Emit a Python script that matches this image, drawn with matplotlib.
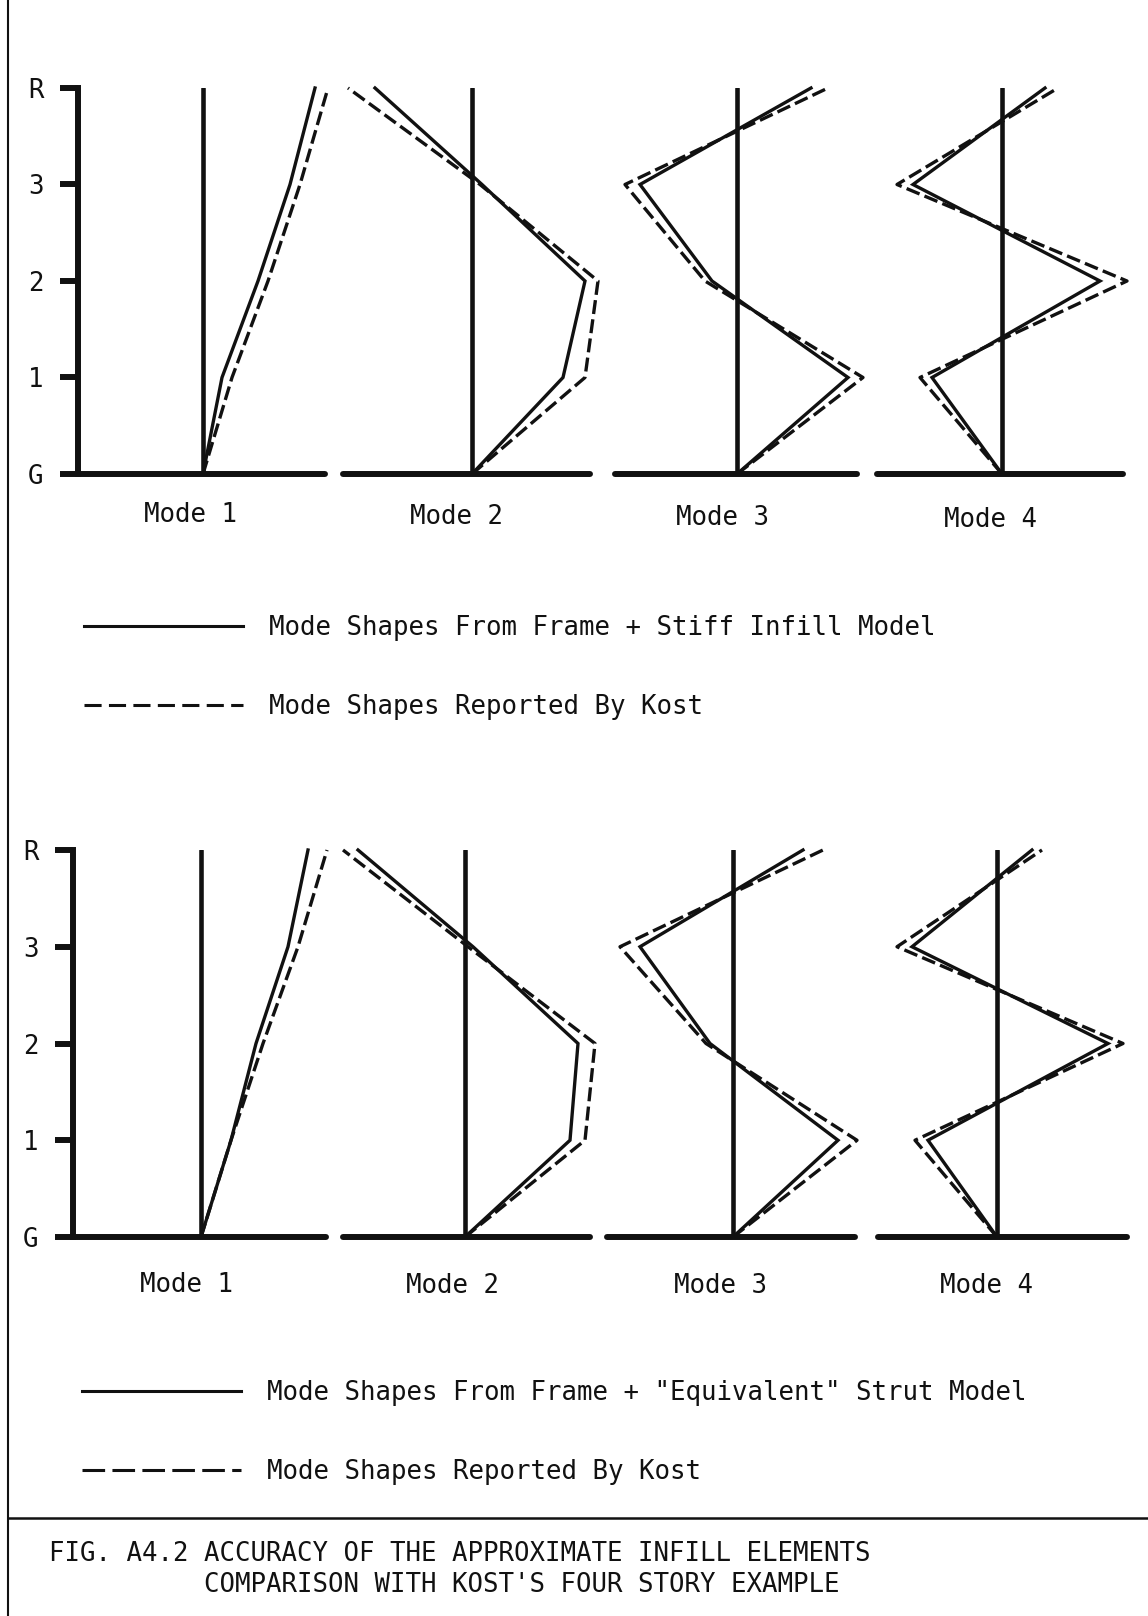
import matplotlib
matplotlib.use("Agg")
import matplotlib.pyplot as plt
from matplotlib.lines import Line2D

W, H = 1148, 1616
FONT = "DejaVu Sans Mono"
FS = 18.5
INK = "#111111"

# story levels and mode names
levels = [0, 1, 2, 3, 4]
level_labels = ["G", "1", "2", "3", "R"]
mode_names = ["Mode 1", "Mode 2", "Mode 3", "Mode 4"]

# mode shape ordinates at G, 1, 2, 3, R
top_solid = [
    [0, 0.19, 0.55, 0.87, 1.12],
    [0, 0.91, 1.13, 0.10, -0.97],
    [0, 1.11, -0.25, -0.97, 0.74],
    [0, -0.70, 0.98, -0.89, 0.43],
]
top_dashed = [
    [0, 0.29, 0.65, 0.97, 1.25],
    [0, 1.13, 1.26, 0.08, -1.24],
    [0, 1.26, -0.32, -1.12, 0.91],
    [0, -0.82, 1.25, -1.05, 0.56],
]
bot_solid = [
    [0, 0.30, 0.55, 0.87, 1.07],
    [0, 1.05, 1.13, 0.08, -1.07],
    [0, 1.05, -0.23, -0.93, 0.70],
    [0, -0.69, 1.11, -0.85, 0.35],
]
bot_dashed = [
    [0, 0.30, 0.62, 0.97, 1.26],
    [0, 1.20, 1.30, 0.03, -1.22],
    [0, 1.24, -0.27, -1.13, 0.90],
    [0, -0.82, 1.26, -1.00, 0.45],
]

top_legend = ["Mode Shapes From Frame + Stiff Infill Model",
              "Mode Shapes Reported By Kost"]
bot_legend = ['Mode Shapes From Frame + "Equivalent" Strut Model',
              "Mode Shapes Reported By Kost"]
caption1 = "FIG. A4.2 ACCURACY OF THE APPROXIMATE INFILL ELEMENTS"
caption2 = "COMPARISON WITH KOST'S FOUR STORY EXAMPLE"

# layout in pixels: (left, right, reference line x) per mode panel
top_panels = [(78, 325, 203), (343, 590, 472), (615, 857, 737), (877, 1123, 1002)]
bot_panels = [(73, 326, 201), (343, 590, 465), (607, 855, 733), (878, 1127, 997)]
top_labels_xy = [(190, 522), (457, 524), (722, 525), (990, 527)]
bot_labels_xy = [(187, 1292), (453, 1293), (720, 1293), (986, 1293)]

fig = plt.figure(figsize=(W / 100, H / 100), dpi=100)
fig.patch.set_facecolor("white")


def draw_group(panels, g_y, r_y, solid, dashed, labels_xy):
    for i, (left, right, ref) in enumerate(panels):
        ax = fig.add_axes([left / W, 1 - g_y / H, (right - left) / W, (g_y - r_y) / H])
        ax.set_xlim((left - ref) / 100, (right - ref) / 100)
        ax.set_ylim(0, 4)
        ax.patch.set_alpha(0)
        for s in ["top", "right"]:
            ax.spines[s].set_visible(False)
        ax.spines["bottom"].set_linewidth(4.3)
        ax.spines["bottom"].set_color(INK)
        ax.spines["bottom"].set_capstyle("round")
        ax.set_xticks([])
        if i == 0:
            ax.spines["left"].set_linewidth(4.3)
            ax.spines["left"].set_color(INK)
            ax.set_yticks(levels)
            ax.set_yticklabels(level_labels, family=FONT, fontsize=FS)
            ax.tick_params(axis="y", direction="out", length=13, width=4.3,
                           pad=12, color=INK, labelcolor=INK)
        else:
            ax.spines["left"].set_visible(False)
            ax.set_yticks([])
        ax.axvline(0, color=INK, lw=3.3, solid_capstyle="round")
        ax.plot(solid[i], levels, color=INK, lw=2.4, clip_on=False,
                solid_joinstyle="miter")
        ax.plot(dashed[i], levels, color=INK, lw=2.4, clip_on=False,
                linestyle=(0, (4.2, 1.6)))
        x, y = labels_xy[i]
        fig.text(x / W, 1 - y / H, mode_names[i], family=FONT, fontsize=FS,
                 ha="center", va="baseline", color=INK)


draw_group(top_panels, 474, 88, top_solid, top_dashed, top_labels_xy)
draw_group(bot_panels, 1237, 850, bot_solid, bot_dashed, bot_labels_xy)

# legends
prop = {"family": FONT, "size": FS}
h_solid = Line2D([], [], color=INK, lw=2.2)
h_dash_top = Line2D([], [], color=INK, lw=2.2, linestyle=(0, (5.6, 2.4)))
h_dash_bot = Line2D([], [], color=INK, lw=2.2, linestyle=(0, (7.4, 2.4)))
fig.legend([h_solid, h_dash_top], top_legend, loc="upper left",
           bbox_to_anchor=(84 / W, 1 - 615 / H), frameon=False, prop=prop,
           handlelength=6.2, handletextpad=1.0, labelspacing=2.05,
           borderpad=0, borderaxespad=0, labelcolor=INK)
fig.legend([h_solid, h_dash_bot], bot_legend, loc="upper left",
           bbox_to_anchor=(82 / W, 1 - 1380 / H), frameon=False, prop=prop,
           handlelength=6.2, handletextpad=1.0, labelspacing=2.05,
           borderpad=0, borderaxespad=0, labelcolor=INK)

# frame lines and caption
fig.add_artist(Line2D([8 / W, 8 / W], [0, 1], color=INK, lw=1.5))
fig.add_artist(Line2D([8 / W, 1], [1 - 1518 / H, 1 - 1518 / H], color=INK, lw=1.8))
fig.text(49 / W, 1 - 1561 / H, caption1, family=FONT, fontsize=FS, color=INK,
         va="baseline")
fig.text(204 / W, 1 - 1592 / H, caption2, family=FONT, fontsize=FS, color=INK,
         va="baseline")

fig.savefig("out.png", dpi=100, facecolor="white")
